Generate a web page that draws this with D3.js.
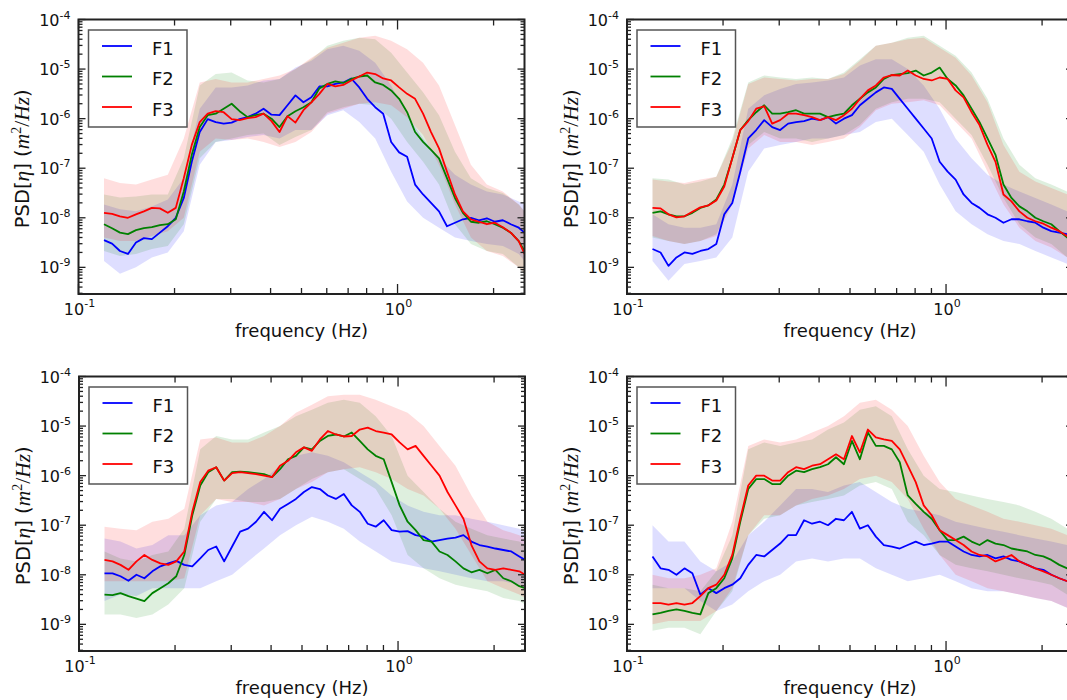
<!DOCTYPE html>
<html>
<head>
<meta charset="utf-8">
<script src="https://cdn.jsdelivr.net/npm/d3@7"></script>
<style>
  html, body { margin: 0; padding: 0; background: #ffffff; }
  svg { display: block; }
</style>
</head>
<body>
<svg id="fig" width="1067" height="700"></svg>
<script>
// Frequency grid (Hz) of the averaged spectra
const freqHz = [0.1202,0.1274,0.1349,0.1429,0.1514,0.1603,0.1698,0.1799,0.1905,0.2018,
  0.2138,0.2265,0.2399,0.2541,0.2692,0.2851,0.3020,0.3199,0.3388,0.3589,
  0.3802,0.4027,0.4266,0.4519,0.4786,0.5070,0.5370,0.5689,0.6026,0.6383,
  0.6761,0.7161,0.7586,0.8035,0.8511,0.9016,0.9550,1.0116,1.0715,1.1350,
  1.2023,1.2735,1.3490,1.4289,1.5136,1.6032,1.6982,1.7989,1.9055,2.0184,
  2.1380,2.2646,2.3988,2.5000];
// Coarser grid (Hz) of the spread envelopes
const bandFreqHz = [0.1202,0.1349,0.1514,0.1698,0.1905,0.2138,0.2399,0.2692,0.3020,0.3388,
  0.3802,0.4266,0.4786,0.5370,0.6026,0.6761,0.7586,0.8511,0.9550,1.0715,
  1.2023,1.3490,1.5136,1.6982,1.9055,2.1380,2.3988,2.5000];

const seriesNames = ["F1", "F2", "F3"];
const seriesColors = ["#0000ff", "#008000", "#ff0000"];
const xTickLabels = [{ value: 0.1, base: "10", exp: "-1" }, { value: 1, base: "10", exp: "0" }];
const yTickLabels = [
  { value: 1e-9, base: "10", exp: "-9" }, { value: 1e-8, base: "10", exp: "-8" },
  { value: 1e-7, base: "10", exp: "-7" }, { value: 1e-6, base: "10", exp: "-6" },
  { value: 1e-5, base: "10", exp: "-5" }, { value: 1e-4, base: "10", exp: "-4" }];

// All spectra below are log10 of PSD[eta] in m^2/Hz.
// ---- Panel A (top left) ----
const psdA_F1 = [-8.45,-8.52,-8.67,-8.73,-8.5,-8.41,-8.43,-8.3,-8.17,-8.0,
  -7.6,-6.87,-6.27,-6.01,-6.07,-6.1,-6.08,-6.01,-5.97,-5.9,
  -5.8,-5.92,-5.93,-5.73,-5.53,-5.67,-5.57,-5.35,-5.35,-5.3,
  -5.27,-5.19,-5.37,-5.6,-5.77,-5.9,-6.47,-6.68,-6.77,-7.33,
  -7.53,-7.7,-7.87,-8.17,-8.1,-8.03,-8.0,-8.05,-8.01,-8.08,
  -8.05,-8.13,-8.2,-8.3];
const psdA_F2 = [-8.13,-8.21,-8.3,-8.33,-8.25,-8.21,-8.19,-8.15,-8.13,-8.03,
  -7.47,-6.73,-6.17,-5.93,-5.9,-5.8,-5.7,-5.85,-5.97,-5.93,
  -5.9,-6.0,-6.17,-5.95,-5.85,-5.77,-5.67,-5.39,-5.3,-5.25,
  -5.28,-5.2,-5.15,-5.13,-5.27,-5.32,-5.43,-5.6,-5.87,-6.27,
  -6.47,-6.63,-6.8,-7.2,-7.6,-7.9,-8.08,-8.1,-8.07,-8.13,
  -8.2,-8.3,-8.47,-8.67];
const psdA_F3 = [-7.9,-7.92,-7.97,-8.0,-7.93,-7.87,-7.8,-7.81,-7.9,-7.8,
  -7.2,-6.53,-6.07,-5.9,-5.85,-5.87,-6.01,-6.03,-5.99,-5.97,
  -5.9,-6.05,-6.27,-5.95,-6.08,-5.83,-5.67,-5.5,-5.3,-5.35,
  -5.32,-5.23,-5.15,-5.07,-5.1,-5.19,-5.23,-5.37,-5.5,-5.6,
  -5.9,-6.27,-6.6,-7.07,-7.53,-7.87,-8.03,-8.08,-8.13,-8.1,
  -8.19,-8.3,-8.47,-8.73];
const psdA_F1_hi = [-7.73,-7.83,-7.87,-7.77,-7.63,-7.2,-5.8,-5.37,-5.37,-5.33,-5.23,-5.2,-4.97,-4.83,-4.6,-4.53,-4.63,-4.87,-5.33,-5.93,-6.4,-6.8,-7.13,-7.33,-7.47,-7.53,-7.67,-7.73];
const psdA_F1_lo = [-8.87,-9.13,-9.0,-8.8,-8.7,-8.27,-6.93,-6.47,-6.43,-6.37,-6.33,-6.4,-6.23,-6.23,-5.93,-5.83,-6.07,-6.4,-7.07,-7.67,-8.0,-8.2,-8.4,-8.47,-8.53,-8.57,-8.73,-8.87];
const psdA_F2_hi = [-7.53,-7.59,-7.57,-7.53,-7.53,-6.8,-5.33,-5.1,-5.07,-5.23,-5.27,-5.2,-5.0,-4.8,-4.53,-4.43,-4.37,-4.4,-4.67,-5.07,-5.47,-5.93,-6.67,-7.2,-7.4,-7.5,-7.73,-7.87];
const psdA_F2_lo = [-8.67,-8.77,-8.73,-8.63,-8.57,-8.13,-6.8,-6.47,-6.4,-6.33,-6.3,-6.53,-6.37,-6.23,-5.87,-5.77,-5.7,-5.73,-6.0,-6.47,-6.87,-7.33,-8.13,-8.53,-8.67,-8.73,-9.0,-9.13];
const psdA_F3_hi = [-7.2,-7.3,-7.33,-7.23,-7.13,-6.4,-5.27,-5.2,-5.27,-5.27,-5.2,-5.13,-5.0,-4.77,-4.57,-4.47,-4.37,-4.33,-4.43,-4.6,-4.87,-5.33,-6.13,-6.93,-7.33,-7.47,-7.73,-7.87];
const psdA_F3_lo = [-8.4,-8.47,-8.47,-8.37,-8.27,-8.0,-6.67,-6.4,-6.43,-6.4,-6.47,-6.57,-6.47,-6.27,-5.9,-5.8,-5.7,-5.67,-5.73,-5.97,-6.33,-6.93,-7.73,-8.4,-8.67,-8.77,-9.0,-9.13];

// ---- Panel B (top right) ----
const psdB_F1 = [-8.63,-8.7,-8.97,-8.8,-8.7,-8.73,-8.67,-8.63,-8.53,-7.93,
  -7.7,-7.07,-6.4,-6.23,-6.03,-6.17,-6.23,-6.1,-6.07,-6.05,
  -6.0,-6.03,-5.97,-6.1,-6.0,-5.93,-5.73,-5.6,-5.47,-5.37,
  -5.4,-5.6,-5.8,-6.0,-6.2,-6.4,-6.87,-7.07,-7.23,-7.53,
  -7.7,-7.8,-7.93,-8.0,-8.1,-8.03,-8.03,-8.07,-8.1,-8.2,
  -8.27,-8.3,-8.33,-8.4];
const psdB_F2 = [-7.9,-7.87,-7.93,-7.97,-7.97,-7.9,-7.8,-7.75,-7.63,-7.33,
  -6.8,-6.23,-6.03,-5.87,-5.73,-5.9,-5.9,-5.87,-5.83,-5.9,
  -5.9,-5.9,-5.97,-5.93,-5.9,-5.73,-5.6,-5.47,-5.37,-5.2,
  -5.12,-5.1,-5.08,-5.03,-5.13,-5.07,-4.97,-5.2,-5.33,-5.53,
  -5.8,-6.07,-6.4,-6.73,-7.33,-7.6,-7.77,-7.87,-8.0,-8.07,
  -8.13,-8.27,-8.4,-8.47];
const psdB_F3 = [-7.8,-7.81,-7.93,-7.99,-7.97,-7.88,-7.79,-7.75,-7.65,-7.37,
  -6.8,-6.23,-6.05,-5.8,-5.75,-6.1,-6.03,-5.9,-5.9,-5.93,
  -5.97,-6.03,-5.97,-6.03,-5.93,-5.8,-5.6,-5.43,-5.33,-5.17,
  -5.12,-5.13,-5.03,-5.13,-5.2,-5.23,-5.17,-5.2,-5.43,-5.57,
  -5.87,-6.13,-6.53,-6.87,-7.53,-7.67,-7.87,-8.0,-8.07,-8.12,
  -8.2,-8.27,-8.37,-8.43];
const psdB_F1_hi = [-7.93,-8.13,-8.2,-8.2,-8.13,-7.33,-5.8,-5.53,-5.4,-5.3,-5.27,-5.23,-5.17,-4.93,-4.8,-4.8,-5.0,-5.33,-5.8,-6.4,-6.8,-7.13,-7.33,-7.47,-7.6,-7.73,-7.87,-7.93];
const psdB_F1_lo = [-8.87,-9.27,-8.93,-8.87,-8.8,-8.4,-7.07,-6.6,-6.53,-6.47,-6.4,-6.4,-6.33,-6.27,-6.07,-6.0,-6.33,-6.67,-7.33,-7.87,-8.13,-8.33,-8.47,-8.53,-8.67,-8.8,-8.93,-9.0];
const psdB_F2_hi = [-7.2,-7.23,-7.33,-7.27,-7.17,-6.4,-5.27,-5.13,-5.17,-5.2,-5.17,-5.2,-5.07,-4.8,-4.53,-4.47,-4.37,-4.33,-4.53,-4.73,-5.07,-5.6,-6.4,-6.93,-7.2,-7.33,-7.47,-7.6];
const psdB_F2_lo = [-8.4,-8.47,-8.53,-8.47,-8.33,-7.67,-6.53,-6.27,-6.4,-6.4,-6.47,-6.4,-6.33,-6.13,-5.8,-5.67,-5.6,-5.6,-5.67,-6.0,-6.33,-6.93,-7.6,-8.13,-8.4,-8.53,-8.8,-8.87];
const psdB_F3_hi = [-7.23,-7.27,-7.3,-7.23,-7.17,-6.47,-5.3,-5.17,-5.2,-5.23,-5.2,-5.2,-5.1,-4.83,-4.53,-4.47,-4.4,-4.37,-4.57,-4.77,-5.13,-5.67,-6.53,-7.07,-7.27,-7.4,-7.53,-7.6];
const psdB_F3_lo = [-8.37,-8.47,-8.53,-8.47,-8.37,-7.73,-6.6,-6.33,-6.47,-6.47,-6.53,-6.47,-6.4,-6.17,-5.83,-5.7,-5.67,-5.63,-5.73,-6.07,-6.4,-7.07,-7.73,-8.2,-8.47,-8.6,-8.8,-8.9];

// ---- Panel C (bottom left) ----
const psdC_F1 = [-7.97,-7.97,-8.03,-8.12,-8.0,-8.07,-7.93,-7.83,-7.77,-7.72,
  -7.8,-7.83,-7.67,-7.5,-7.43,-7.73,-7.43,-7.13,-7.07,-6.93,
  -6.73,-6.9,-6.67,-6.57,-6.47,-6.33,-6.23,-6.27,-6.4,-6.47,
  -6.37,-6.6,-6.73,-6.97,-7.03,-6.9,-7.1,-7.13,-7.12,-7.2,
  -7.23,-7.33,-7.3,-7.27,-7.25,-7.2,-7.33,-7.4,-7.43,-7.47,
  -7.5,-7.53,-7.63,-7.7];
const psdC_F2 = [-8.4,-8.41,-8.37,-8.43,-8.48,-8.53,-8.37,-8.27,-8.17,-8.03,
  -7.6,-6.8,-6.2,-5.93,-5.83,-6.1,-5.93,-5.92,-5.93,-5.95,
  -5.97,-6.03,-5.87,-5.67,-5.6,-5.43,-5.47,-5.3,-5.2,-5.17,
  -5.21,-5.13,-5.3,-5.47,-5.6,-5.67,-6.13,-6.6,-6.93,-7.1,
  -7.3,-7.33,-7.53,-7.6,-7.73,-7.87,-7.95,-7.9,-7.97,-7.9,
  -8.07,-8.13,-8.23,-8.27];
const psdC_F3 = [-7.7,-7.73,-7.8,-7.9,-7.73,-7.6,-7.7,-7.77,-7.8,-7.73,
  -7.53,-6.73,-6.13,-5.9,-5.83,-6.1,-5.95,-5.93,-5.95,-5.97,
  -6.0,-6.03,-5.8,-5.7,-5.53,-5.43,-5.5,-5.27,-5.1,-5.17,
  -5.21,-5.2,-5.07,-5.03,-5.1,-5.13,-5.17,-5.33,-5.47,-5.4,
  -5.6,-5.8,-6.0,-6.33,-6.6,-6.87,-7.4,-7.73,-7.87,-7.9,
  -7.87,-7.9,-7.93,-8.0];
const psdC_F1_hi = [-7.27,-7.33,-7.47,-7.4,-7.2,-7.2,-6.8,-6.6,-6.53,-6.27,-6.07,-5.8,-5.6,-5.53,-5.6,-5.73,-5.93,-6.13,-6.4,-6.6,-6.73,-6.8,-6.8,-6.87,-6.93,-7.0,-7.07,-7.13];
const psdC_F1_lo = [-8.53,-8.4,-8.43,-8.27,-8.27,-8.27,-8.27,-8.13,-8.0,-7.73,-7.47,-7.2,-7.0,-6.83,-6.93,-7.07,-7.33,-7.53,-7.73,-7.8,-7.87,-7.93,-8.0,-8.07,-8.13,-8.13,-8.2,-8.27];
const psdC_F2_hi = [-7.53,-7.67,-7.73,-7.6,-7.53,-7.07,-5.47,-5.2,-5.27,-5.27,-5.13,-5.0,-4.8,-4.67,-4.53,-4.47,-4.53,-4.8,-5.2,-6.0,-6.33,-6.67,-6.93,-7.07,-7.2,-7.27,-7.33,-7.4];
const psdC_F2_lo = [-8.8,-8.8,-8.87,-8.8,-8.6,-8.27,-6.93,-6.47,-6.47,-6.53,-6.53,-6.47,-6.27,-6.07,-5.93,-5.87,-6.07,-6.27,-6.8,-7.6,-7.87,-8.07,-8.2,-8.27,-8.33,-8.47,-8.53,-8.6];
const psdC_F3_hi = [-7.03,-7.07,-7.1,-6.93,-6.87,-6.67,-5.27,-5.23,-5.33,-5.33,-5.2,-5.0,-4.73,-4.57,-4.4,-4.37,-4.37,-4.47,-4.6,-4.73,-5.0,-5.4,-5.8,-6.4,-6.93,-7.1,-7.2,-7.27];
const psdC_F3_lo = [-8.13,-8.13,-8.13,-8.13,-8.13,-8.07,-6.8,-6.47,-6.53,-6.53,-6.6,-6.47,-6.27,-6.13,-5.93,-5.87,-5.83,-5.93,-6.07,-6.27,-6.4,-6.67,-7.07,-7.6,-8.13,-8.27,-8.4,-8.47];

// ---- Panel D (bottom right) ----
const psdD_F1 = [-7.63,-7.87,-7.9,-8.0,-7.87,-7.97,-8.4,-8.27,-8.37,-8.27,
  -8.2,-8.07,-7.8,-7.6,-7.63,-7.5,-7.37,-7.2,-7.2,-6.9,
  -6.97,-6.93,-7.0,-6.87,-6.9,-6.73,-7.07,-7.0,-7.23,-7.4,
  -7.43,-7.47,-7.4,-7.33,-7.4,-7.37,-7.33,-7.33,-7.43,-7.53,
  -7.6,-7.63,-7.6,-7.67,-7.63,-7.7,-7.73,-7.8,-7.87,-7.9,
  -8.0,-8.07,-8.13,-8.2];
const psdD_F2 = [-8.8,-8.77,-8.73,-8.7,-8.73,-8.77,-8.8,-8.37,-8.27,-8.07,
  -7.67,-6.93,-6.27,-6.07,-6.07,-6.17,-6.17,-6.0,-5.9,-5.93,
  -5.87,-5.83,-5.77,-5.63,-5.77,-5.3,-5.67,-5.13,-5.4,-5.4,
  -5.47,-5.73,-6.4,-6.57,-6.73,-6.87,-7.1,-7.3,-7.3,-7.23,
  -7.33,-7.4,-7.3,-7.37,-7.4,-7.47,-7.5,-7.53,-7.6,-7.63,
  -7.7,-7.8,-7.87,-7.93];
const psdD_F3 = [-8.57,-8.57,-8.6,-8.57,-8.6,-8.57,-8.43,-8.27,-8.2,-8.0,
  -7.6,-6.87,-6.2,-6.0,-6.0,-6.1,-6.1,-5.93,-5.83,-5.87,
  -5.8,-5.77,-5.67,-5.57,-5.67,-5.2,-5.53,-5.07,-5.23,-5.27,
  -5.3,-5.47,-5.8,-6.13,-6.6,-6.8,-7.1,-7.2,-7.3,-7.4,
  -7.53,-7.6,-7.63,-7.73,-7.67,-7.6,-7.73,-7.8,-7.87,-7.93,
  -8.0,-8.07,-8.13,-8.17];
const psdD_F1_hi = [-7.0,-7.33,-7.33,-7.73,-7.93,-7.73,-7.2,-6.93,-6.6,-6.27,-6.27,-6.33,-6.2,-6.13,-6.33,-6.53,-6.67,-6.73,-6.8,-6.93,-7.0,-7.07,-7.13,-7.2,-7.27,-7.33,-7.4,-7.47];
const psdD_F1_lo = [-8.27,-8.27,-8.27,-8.53,-8.73,-8.6,-8.33,-8.13,-8.0,-7.73,-7.67,-7.73,-7.67,-7.67,-7.87,-8.0,-8.13,-8.07,-8.0,-8.13,-8.27,-8.33,-8.33,-8.4,-8.47,-8.53,-8.67,-8.73];
const psdD_F2_hi = [-8.2,-8.27,-8.27,-8.33,-7.93,-7.2,-5.47,-5.33,-5.4,-5.33,-5.27,-5.07,-4.93,-4.67,-4.6,-4.8,-5.47,-6.0,-6.27,-6.33,-6.4,-6.47,-6.53,-6.6,-6.73,-6.87,-7.07,-7.13];
const psdD_F2_lo = [-9.13,-9.07,-9.07,-9.2,-8.73,-8.33,-7.2,-6.87,-6.8,-6.6,-6.53,-6.47,-6.4,-6.2,-6.13,-6.27,-6.93,-7.2,-7.6,-7.8,-7.87,-7.93,-8.0,-8.07,-8.13,-8.2,-8.4,-8.47];
const psdD_F3_hi = [-8.0,-8.07,-8.07,-8.0,-7.87,-6.93,-5.4,-5.27,-5.33,-5.27,-5.13,-5.0,-4.8,-4.53,-4.47,-4.67,-5.0,-5.6,-6.13,-6.47,-6.6,-6.73,-6.87,-6.93,-7.0,-7.07,-7.2,-7.27];
const psdD_F3_lo = [-9.0,-8.93,-8.93,-8.93,-8.73,-8.27,-7.2,-6.8,-6.8,-6.6,-6.47,-6.4,-6.27,-6.07,-6.0,-6.13,-6.47,-7.07,-7.6,-8.0,-8.13,-8.27,-8.33,-8.4,-8.47,-8.53,-8.67,-8.73];

// Panel data assembled per subplot
const panelData = [
  { mean: [psdA_F1, psdA_F2, psdA_F3], lo: [psdA_F1_lo, psdA_F2_lo, psdA_F3_lo], hi: [psdA_F1_hi, psdA_F2_hi, psdA_F3_hi] },
  { mean: [psdB_F1, psdB_F2, psdB_F3], lo: [psdB_F1_lo, psdB_F2_lo, psdB_F3_lo], hi: [psdB_F1_hi, psdB_F2_hi, psdB_F3_hi] },
  { mean: [psdC_F1, psdC_F2, psdC_F3], lo: [psdC_F1_lo, psdC_F2_lo, psdC_F3_lo], hi: [psdC_F1_hi, psdC_F2_hi, psdC_F3_hi] },
  { mean: [psdD_F1, psdD_F2, psdD_F3], lo: [psdD_F1_lo, psdD_F2_lo, psdD_F3_lo], hi: [psdD_F1_hi, psdD_F2_hi, psdD_F3_hi] }
];

// Subplot placement (plot-area origin in pixels)
const panelOrigins = [
  { left: 78.5, top: 19.5 }, { left: 627, top: 19.5 },
  { left: 79, top: 376.5 }, { left: 627, top: 376.5 }
];
const W = 446, H = 274.5;
const SANS = "'DejaVu Sans', 'Bitstream Vera Sans', sans-serif";
const MATH = "'Liberation Serif', 'DejaVu Serif', serif";

const x = d3.scaleLog().domain([0.1, 2.5]).range([0, W]);
const y = d3.scaleLog().domain([2.9e-10, 1e-4]).range([H, 0]);
const pow10 = e => Math.pow(10, e);

const line = d3.line().x(d => x(d.f)).y(d => y(d.v));
const area = d3.area().x(d => x(d.f)).y0(d => y(d.lo)).y1(d => y(d.hi));

const svg = d3.select("#fig");
svg.append("rect").attr("width", 1067).attr("height", 700).attr("fill", "#ffffff");

const isDecade = t => Math.abs(Math.log10(t) - Math.round(Math.log10(t))) < 1e-6;

panelData.forEach((pd, i) => {
  const o = panelOrigins[i];
  const g = svg.append("g").attr("transform", `translate(${o.left},${o.top})`);

  const clipId = "plotclip" + i;
  g.append("clipPath").attr("id", clipId)
    .append("rect").attr("x", 0).attr("y", 0).attr("width", W).attr("height", H);
  const plot = g.append("g").attr("clip-path", `url(#${clipId})`);

  // spread envelopes
  pd.mean.forEach((_, j) => {
    const pts = bandFreqHz.map((f, k) => ({ f, lo: pow10(pd.lo[j][k]), hi: pow10(pd.hi[j][k]) }));
    plot.append("path").datum(pts)
      .attr("d", area)
      .attr("fill", seriesColors[j])
      .attr("fill-opacity", 0.13)
      .attr("stroke", "none");
  });

  // mean spectra
  pd.mean.forEach((m, j) => {
    const pts = freqHz.map((f, k) => ({ f, v: pow10(m[k]) }));
    plot.append("path").datum(pts)
      .attr("d", line)
      .attr("fill", "none")
      .attr("stroke", seriesColors[j])
      .attr("stroke-width", 1.8)
      .attr("stroke-linejoin", "round");
  });

  // ticks on all four sides, pointing inward
  const ticks = g.append("g").attr("stroke", "#222").attr("stroke-width", 1.3);
  x.ticks().filter(t => t >= 0.1 && t <= 2.5).forEach(t => {
    const px = x(t), len = isDecade(t) ? 10 : 6;
    ticks.append("line").attr("x1", px).attr("x2", px).attr("y1", H).attr("y2", H - len);
    ticks.append("line").attr("x1", px).attr("x2", px).attr("y1", 0).attr("y2", len);
  });
  y.ticks().filter(t => t >= 2.9e-10 && t <= 1e-4 * 1.0001).forEach(t => {
    const py = y(t), len = isDecade(t) ? 7 : 4;
    ticks.append("line").attr("x1", 0).attr("x2", len).attr("y1", py).attr("y2", py);
    ticks.append("line").attr("x1", W).attr("x2", W - len).attr("y1", py).attr("y2", py);
  });

  // frame
  g.append("rect").attr("x", 0).attr("y", 0).attr("width", W).attr("height", H)
    .attr("fill", "none").attr("stroke", "#222").attr("stroke-width", 2);

  // y tick labels
  yTickLabels.forEach(tl => {
    const t = g.append("text")
      .attr("x", -8).attr("y", y(tl.value) + 6)
      .attr("text-anchor", "end")
      .attr("font-family", SANS).attr("font-size", 16).attr("fill", "#111");
    t.append("tspan").text(tl.base);
    t.append("tspan").attr("dy", -7).attr("font-size", 11).text(tl.exp);
  });

  // x tick labels
  xTickLabels.forEach(tl => {
    const t = g.append("text")
      .attr("x", x(tl.value) + 1).attr("y", H + 20.5)
      .attr("text-anchor", "middle")
      .attr("font-family", SANS).attr("font-size", 16).attr("fill", "#111");
    t.append("tspan").text(tl.base);
    t.append("tspan").attr("dy", -8).attr("font-size", 11).text(tl.exp);
  });

  // axis titles
  g.append("text")
    .attr("x", W / 2).attr("y", H + 42.5)
    .attr("text-anchor", "middle")
    .attr("font-family", SANS).attr("font-size", 18).attr("fill", "#111")
    .text("frequency (Hz)");

  const yl = g.append("text")
    .attr("transform", `translate(-49.5,${H / 2 + 2}) rotate(-90)`)
    .attr("text-anchor", "middle")
    .attr("font-family", SANS).attr("font-size", 19.5).attr("fill", "#111");
  yl.append("tspan").text("PSD[");
  yl.append("tspan").attr("font-family", MATH).attr("font-style", "italic").attr("font-size", 21.5).text("η");
  yl.append("tspan").text("] (");
  yl.append("tspan").attr("font-family", MATH).attr("font-style", "italic").attr("font-size", 21.5).text("m");
  yl.append("tspan").attr("font-family", MATH).attr("font-size", 14).attr("dy", -8).text("2");
  yl.append("tspan").attr("font-family", MATH).attr("font-size", 21.5).attr("dy", 8).text("/");
  yl.append("tspan").attr("font-family", MATH).attr("font-style", "italic").attr("font-size", 21.5).text("Hz");
  yl.append("tspan").text(")");

  // legend
  const lg = g.append("g").attr("transform", "translate(10,10.5)");
  lg.append("rect").attr("width", 98.5).attr("height", 97)
    .attr("fill", "#ffffff").attr("stroke", "#555").attr("stroke-width", 1.5);
  seriesNames.forEach((name, j) => {
    const ly = 16 + j * 30.5;
    lg.append("line").attr("x1", 13.5).attr("x2", 43.5).attr("y1", ly).attr("y2", ly)
      .attr("stroke", seriesColors[j]).attr("stroke-width", 1.8);
    lg.append("text").attr("x", 63.5).attr("y", ly + 8.5)
      .attr("font-family", SANS).attr("font-size", 18).attr("fill", "#111")
      .text(name);
  });
});
</script>
</body>
</html>
